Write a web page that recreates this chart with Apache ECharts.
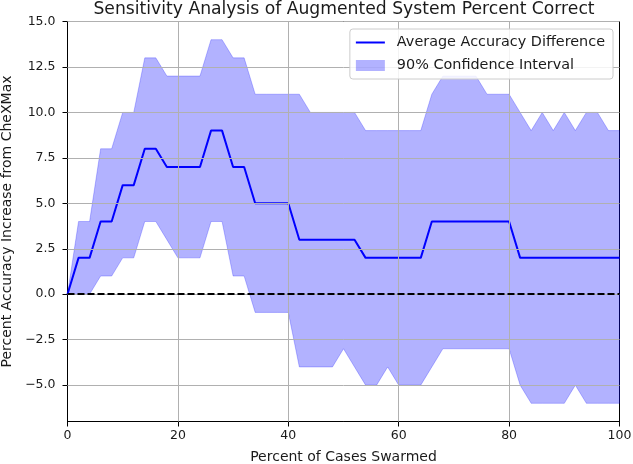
<!DOCTYPE html>
<html><head><meta charset="utf-8">
<script src="https://cdn.jsdelivr.net/npm/echarts@6/dist/echarts.min.js"></script>
<style>html,body{margin:0;padding:0;background:#fff}#c{width:633px;height:464px}</style>
</head><body><div id="c"></div>
<script>
const xValues = [0,2,4,6,8,10,12,14,16,18,20,22,24,26,28,30,32,34,36,38,40,42,44,46,48,50,52,54,56,58,60,62,64,66,68,70,72,74,76,78,80,82,84,86,88,90,92,94,96,98,100];
const meanDiff = [0,2,2,4,4,6,6,8,8,7,7,7,7,9,9,7,7,5,5,5,5,3,3,3,3,3,3,2,2,2,2,2,2,4,4,4,4,4,4,4,4,2,2,2,2,2,2,2,2,2,2];
const upperCI = [0,4,4,8,8,10,10,13,13,12,12,12,12,14,14,13,13,11,11,11,11,11,10,10,10,10,10,9,9,9,9,9,9,11,12,12,12,12,11,11,11,10,9,10,9,10,9,10,10,9,9];
const lowerCI = [0,0,0,1,1,2,2,4,4,3,2,2,2,4,4,1,1,-1,-1,-1,-1,-4,-4,-4,-4,-3,-4,-5,-5,-4,-5,-5,-5,-4,-3,-3,-3,-3,-3,-3,-3,-5,-6,-6,-6,-6,-5,-6,-6,-6,-6];
const yTicks = [-5,-2.5,0,2.5,5,7.5,10,12.5,15];
const xTicks = [0,20,40,60,80,100];
const titleText = 'Sensitivity Analysis of Augmented System Percent Correct';
const xName = 'Percent of Cases Swarmed';
const yName = 'Percent Accuracy Increase from CheXMax';
const meanName = 'Average Accuracy Difference';
const ciName = '90% Confidence Interval';

const FONT = 'DejaVu Sans';
const TXT = '#1a1a1a';
const BAND = 'rgba(0,0,255,0.3)';
const chart = echarts.init(document.getElementById('c'), null, {renderer:'canvas'});

const bandData = xValues.map((x,i)=>[x, lowerCI[i], upperCI[i]]);
const meanData = xValues.map((x,i)=>[x, meanDiff[i]]);

const gridLines = [];
yTicks.forEach(v=>gridLines.push({yAxis:v}));
xTicks.filter(v=>v>0 && v<100).forEach(v=>gridLines.push({xAxis:v}));
gridLines.push({yAxis:0, lineStyle:{color:'#000', width:2, type:[7,3], opacity:1}});

const fmtY = v => (v<0?'\u2212':'') + Math.abs(v).toFixed(1);

function renderBand(params, api){
  if (params.dataIndex !== 0) return null;
  const top = [], bot = [];
  for (let i = 0; i < bandData.length; i++) {
    top.push(api.coord([bandData[i][0], bandData[i][2]]));
    bot.push(api.coord([bandData[i][0], bandData[i][1]]));
  }
  const pts = top.concat(bot.reverse());
  return {type:'polygon', shape:{points:pts},
    style:{fill:BAND, stroke:BAND, lineWidth:0.8}};
}

chart.setOption({
  animation:false,
  backgroundColor:'#fff',
  textStyle:{fontFamily:FONT},
  graphic:[{type:'text', x:344, y:10, z:100,
    style:{text:titleText, fontFamily:FONT, fontSize:17.2, fill:TXT, align:'center', verticalAlign:'middle'}}],
  grid:{left:67.5, right:13.5, top:21.5, bottom:42.5, show:true, borderColor:'#000', borderWidth:1,
    backgroundColor:'transparent', containLabel:false, outerBoundsMode:'none'},
  legend:{
    orient:'vertical', right:20, top:29, z:50,
    data:[{name:meanName, itemStyle:{color:'rgba(0,0,0,0)', borderColor:'rgba(0,0,0,0)', borderWidth:0}},
          {name:ciName, icon:'rect', itemStyle:{color:BAND, borderWidth:0}}],
    itemWidth:29, itemHeight:11, itemGap:6,
    padding:[5,8,5,5],
    backgroundColor:'rgba(255,255,255,0.85)', borderColor:'#cccccc', borderWidth:1, borderRadius:3,
    textStyle:{fontFamily:FONT, fontSize:14.4, color:TXT, padding:[0,0,0,7], lineHeight:17},
    selectedMode:false
  },
  xAxis:{type:'value', min:0, max:100, interval:20,
    name:xName, nameLocation:'middle', nameGap:29,
    nameTextStyle:{fontFamily:FONT, fontSize:14, color:TXT},
    axisLine:{show:true, onZero:false, lineStyle:{color:'#000', width:1}},
    axisTick:{show:true, inside:false, length:5, lineStyle:{color:'#000'}},
    axisLabel:{fontFamily:FONT, fontSize:12.5, color:TXT, margin:8},
    splitLine:{show:false}},
  yAxis:{type:'value', min:-7, max:15,
    name:yName, nameLocation:'middle', nameGap:52, nameRotate:90,
    nameTextStyle:{fontFamily:FONT, fontSize:14, color:TXT},
    axisLine:{show:true, onZero:false, lineStyle:{color:'#000', width:1}},
    axisTick:{show:true, length:5, lineStyle:{color:'#000'}, customValues:yTicks},
    axisLabel:{fontFamily:FONT, fontSize:12.5, color:TXT, margin:12, customValues:yTicks, formatter:fmtY},
    splitLine:{show:false}},
  series:[
    {name:ciName, type:'custom', data:bandData, renderItem:renderBand, clip:true, z:1, silent:true,
     encode:{x:0, y:[1,2]}, itemStyle:{color:BAND}},
    {name:'grid', type:'line', data:[], z:2, silent:true,
     markLine:{symbol:'none', silent:true, animation:false, label:{show:false},
       lineStyle:{color:'#b0b0b0', width:1, type:'solid', opacity:1}, emphasis:{disabled:true},
       data:gridLines}},
    {name:meanName, type:'line', data:meanData, symbol:'none', z:3,
     itemStyle:{color:'#0000ff'}, lineStyle:{color:'#0000ff', width:2}, silent:true}
  ]
});
</script></body></html>
